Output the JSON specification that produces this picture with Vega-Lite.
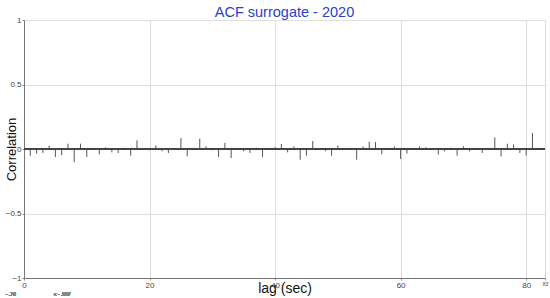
{
  "$schema": "https://vega.github.io/schema/vega-lite/v6.json",
  "width": 521,
  "height": 258,
  "autosize": "none",
  "padding": {"left": 24, "top": 20, "right": 5, "bottom": 20},
  "background": "white",
  "title": {
    "text": "ACF surrogate - 2020",
    "color": "#2a3fc8",
    "font": "Liberation Sans",
    "fontSize": 14.5,
    "fontWeight": "normal",
    "anchor": "middle",
    "offset": -4
  },
  "config": {
    "view": {"stroke": null},
    "font": "Liberation Sans"
  },
  "data": {
    "values": [
      {"lag": 1, "acf": -0.052}, {"lag": 2, "acf": -0.036}, {"lag": 3, "acf": -0.031}, {"lag": 4, "acf": 0.026},
      {"lag": 5, "acf": -0.062}, {"lag": 6, "acf": -0.047}, {"lag": 7, "acf": 0.041}, {"lag": 8, "acf": -0.103},
      {"lag": 9, "acf": 0.041}, {"lag": 10, "acf": -0.062}, {"lag": 11, "acf": 0.008}, {"lag": 12, "acf": -0.041},
      {"lag": 13, "acf": 0.013}, {"lag": 14, "acf": -0.026}, {"lag": 15, "acf": -0.031}, {"lag": 16, "acf": 0.01},
      {"lag": 17, "acf": -0.052}, {"lag": 18, "acf": 0.067}, {"lag": 19, "acf": 0.008}, {"lag": 20, "acf": -0.01},
      {"lag": 21, "acf": 0.028}, {"lag": 22, "acf": -0.018}, {"lag": 23, "acf": -0.031}, {"lag": 24, "acf": 0.008},
      {"lag": 25, "acf": 0.085}, {"lag": 26, "acf": -0.057}, {"lag": 27, "acf": 0.01}, {"lag": 28, "acf": 0.08},
      {"lag": 29, "acf": 0.02}, {"lag": 30, "acf": -0.01}, {"lag": 31, "acf": -0.062}, {"lag": 32, "acf": 0.047},
      {"lag": 33, "acf": -0.07}, {"lag": 34, "acf": 0.008}, {"lag": 35, "acf": -0.018}, {"lag": 36, "acf": -0.031},
      {"lag": 37, "acf": 0.01}, {"lag": 38, "acf": -0.062}, {"lag": 39, "acf": 0.008}, {"lag": 40, "acf": 0.015},
      {"lag": 41, "acf": 0.039}, {"lag": 42, "acf": -0.026}, {"lag": 43, "acf": 0.02}, {"lag": 44, "acf": -0.083},
      {"lag": 45, "acf": -0.052}, {"lag": 46, "acf": 0.062}, {"lag": 47, "acf": 0.008}, {"lag": 48, "acf": -0.018},
      {"lag": 49, "acf": -0.052}, {"lag": 50, "acf": 0.026}, {"lag": 51, "acf": 0.008}, {"lag": 52, "acf": 0.01},
      {"lag": 53, "acf": -0.083}, {"lag": 54, "acf": 0.02}, {"lag": 55, "acf": 0.057}, {"lag": 56, "acf": 0.054},
      {"lag": 57, "acf": -0.041}, {"lag": 58, "acf": 0.008}, {"lag": 59, "acf": 0.02}, {"lag": 60, "acf": -0.078},
      {"lag": 61, "acf": -0.036}, {"lag": 62, "acf": 0.008}, {"lag": 63, "acf": 0.02}, {"lag": 64, "acf": 0.013},
      {"lag": 65, "acf": -0.008}, {"lag": 66, "acf": -0.044}, {"lag": 67, "acf": -0.018}, {"lag": 68, "acf": 0.01},
      {"lag": 69, "acf": -0.052}, {"lag": 70, "acf": 0.02}, {"lag": 71, "acf": -0.018}, {"lag": 72, "acf": 0.008},
      {"lag": 73, "acf": -0.031}, {"lag": 74, "acf": 0.008}, {"lag": 75, "acf": 0.09}, {"lag": 76, "acf": -0.057},
      {"lag": 77, "acf": 0.041}, {"lag": 78, "acf": 0.036}, {"lag": 79, "acf": -0.031}, {"lag": 80, "acf": -0.05},
      {"lag": 81, "acf": 0.124}, {"lag": 82, "acf": 0.008}
    ]
  },
  "layer": [
    {
      "mark": {"type": "rule", "strokeWidth": 1, "color": "#555555"},
      "encoding": {
        "x": {
          "field": "lag",
          "type": "quantitative",
          "scale": {"domain": [0, 83], "nice": false, "zero": false},
          "axis": {
            "title": "lag (sec)",
            "titleFontSize": 14,
            "titleFontWeight": "normal",
            "titleColor": "#111111",
            "titleBaseline": "middle",
            "titleY": 10,
            "values": [0, 20, 40, 60, 80, 83],
            "format": "d",
            "labelFontSize": {"condition": {"test": "datum.value == 83", "value": 5}, "value": 8},
            "labelColor": "#444444",
            "labelPadding": 1,
            "labelFlush": false,
            "tickSize": 2,
            "tickColor": "#888888",
            "domainColor": "#777777",
            "grid": true,
            "gridColor": "#dddddd"
          }
        },
        "y": {
          "field": "acf",
          "type": "quantitative",
          "scale": {"domain": [-1, 1], "nice": false},
          "axis": {
            "title": "Correlation",
            "titleFontSize": 13,
            "titleFontWeight": "normal",
            "titleColor": "#111111",
            "titleBaseline": "middle",
            "titleX": -13,
            "titleY": 129,
            "values": [-1, -0.5, 0, 0.5, 1],
            "format": "~g",
            "labelFontSize": 8,
            "labelColor": "#444444",
            "labelPadding": 1,
            "labelFlush": false,
            "tickSize": 2,
            "tickColor": "#888888",
            "domainColor": "#777777",
            "grid": true,
            "gridColor": "#dddddd"
          }
        },
        "y2": {"datum": 0}
      }
    },
    {
      "mark": {"type": "rule", "strokeWidth": 1, "color": "#444444"},
      "encoding": {"y": {"datum": 0}}
    },
    {
      "mark": {"type": "text", "fontSize": 5, "color": "#888888", "clip": false},
      "encoding": {"x": {"datum": -2.1}, "y": {"datum": -1.124}, "text": {"value": "- .79"}}
    },
    {
      "mark": {"type": "text", "fontSize": 5, "color": "#888888", "clip": false},
      "encoding": {"x": {"datum": 6.1}, "y": {"datum": -1.124}, "text": {"value": "c - .997"}}
    }
  ]
}
